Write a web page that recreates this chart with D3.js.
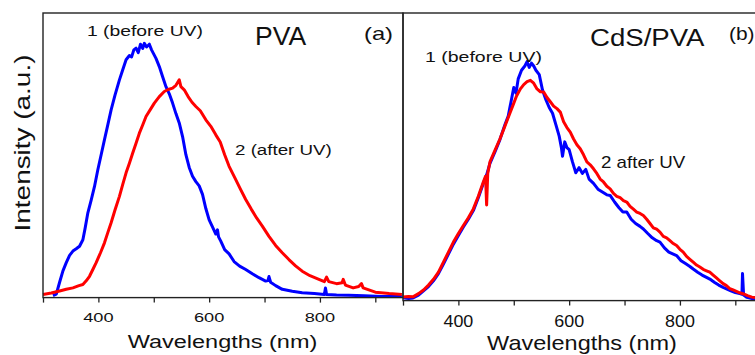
<!DOCTYPE html>
<html><head><meta charset="utf-8">
<script src="https://cdn.jsdelivr.net/npm/d3@7"></script>
<style>html,body{margin:0;padding:0;background:#fff;overflow:hidden}svg{display:block}text{font-family:"Liberation Sans",Arial,sans-serif;fill:#111}</style>
</head><body><svg id="c" width="755" height="355"></svg>
<script>
// ---- data (wavelength nm, intensity a.u.) ----
const xTicksMajor = [400, 600, 800];
const xTicksMinor = [300, 500, 700, 900];
const panelTitles = ["PVA", "CdS/PVA"];
const panelLetters = ["(a)", "(b)"];
const xLabel = "Wavelengths (nm)";
const yLabel = "Intensity (a.u.)";

const pvaBefore = [[318,0.3],[324,0.8],[330,5],[336,9],[342,11.9],[348,14.5],[354,16],[360,16.8],[366,17.7],[372,20],[376,24],[381,29.5],[387,34],[393,38.8],[399,44.7],[405,50],[411,55.3],[417,60.5],[423,65.8],[430,71],[438,76.4],[444,80],[450,83.5],[456,85],[460,84.5],[464,87],[468,87.6],[472,86],[476,89],[480,87.5],[483,89.3],[487,88],[492,89],[496,87],[500,85.5],[504,84],[510,81.1],[516,77.5],[522,74],[528,71.5],[534,68.2],[540,64.5],[546,61.2],[552,56.4],[558,50],[564,45.5],[570,42.4],[576,40.5],[582,39],[588,36],[594,31],[600,27],[606,24.5],[612,22],[615,23.5],[617,21],[621,19.5],[628,16.5],[636,15],[645,12.3],[655,10.7],[666,9.5],[678,8],[690,6.6],[702,5.4],[706,5.6],[708,7],[711,5],[720,3.8],[732,2.5],[750,1.8],[768,1.3],[790,1],[808,0.7],[810,3],[812,0.7],[830,0.5],[852,0.4],[880,0.2],[912,0],[948,0]];
const pvaAfter = [[300,0.7],[315,1.2],[330,1.9],[342,2.5],[354,3],[365,3.8],[372,4.2],[378,5.5],[384,7.1],[390,9.5],[396,11.9],[404,15.5],[411,18.9],[417,22.5],[423,26],[430,30.5],[438,35.3],[444,39.5],[450,43.6],[456,47],[462,50.6],[468,54],[474,57.6],[480,60.5],[486,63.5],[494,66],[501,68.2],[510,70.5],[519,72.3],[526,73],[534,73.5],[540,74.5],[546,76.4],[549,74],[555,72.9],[562,70.5],[569,68.5],[576,67],[584,65.5],[594,62.3],[603,60],[612,57],[620,54.5],[628,50],[636,45.9],[646,42],[656,38],[666,34.2],[676,30.8],[686,27.6],[696,24.8],[708,21.2],[720,18],[732,15.4],[744,13],[756,10.8],[768,8.9],[782,7.3],[796,6.2],[808,5.2],[812,6.8],[816,5.2],[830,4.5],[840,4.8],[842,6],[846,4],[860,3],[870,3.5],[875,4.5],[878,3],[900,1.5],[925,1],[948,0.7]];

const cdsBefore = [[300,0.6],[310,0.3],[318,0.5],[328,1.5],[337,3],[346,4.5],[355,6.5],[364,9],[373,12.3],[382,15.8],[391,19.3],[400,22.3],[409,25.3],[418,28],[427,31],[436,35.5],[445,40.5],[451,43.5],[457,47.5],[466,51.5],[475,55.8],[484,61],[490,64],[496,70],[500,74],[504,72],[508,77],[514,80],[520,81.5],[524,83],[528,81],[532,82.5],[536,81.5],[540,80],[546,78.5],[552,73],[558,69.7],[564,67],[570,65],[576,61],[582,57],[586,53],[588,50],[592,55],[596,53],[600,52.3],[606,48],[612,44.2],[618,46],[624,44],[630,45.4],[636,42],[644,40.5],[652,38.5],[660,37.5],[668,36.5],[674,36.3],[682,34],[690,32],[697,30.5],[704,30.5],[712,28],[720,26.5],[728,25.5],[734,24.6],[742,23],[750,21.5],[758,20.5],[764,20],[772,18],[780,16.5],[788,15.8],[794,15.3],[802,13.5],[810,12.5],[818,11.5],[824,10.6],[832,9.5],[840,8.5],[848,7.7],[854,7.1],[862,6],[870,5],[878,4.2],[885,3.6],[892,3],[900,2.4],[908,2],[912,1.8],[913,9],[915,1.5],[921,0.7],[930,0.3],[950,0.1]];
const cdsAfter = [[300,0.8],[310,1],[318,0.9],[328,2],[337,3.3],[346,5],[355,7],[364,9.5],[373,13],[382,16.5],[391,20],[400,23],[409,25.8],[418,28.5],[427,31.6],[436,36],[445,41],[449,43],[451,33],[453,44],[457,48],[466,52],[475,56],[484,60.5],[493,65],[499,68],[505,71],[512,73.5],[518,75],[524,76],[530,76.5],[536,75.5],[542,73.5],[548,72.5],[554,72.4],[560,70.5],[566,69],[572,67.5],[578,66.6],[584,65.4],[590,62],[596,60],[602,58.4],[608,56],[614,54],[620,52.6],[626,50.5],[632,48],[638,47],[644,45.6],[650,44],[656,42],[662,41],[668,39.5],[674,38.6],[680,37],[686,36],[692,35.5],[698,34.5],[704,34],[710,32.5],[716,31.5],[722,30.5],[728,30],[734,29.3],[740,28],[746,26.5],[752,25],[758,24.5],[764,23.5],[770,22],[776,21.5],[782,20.5],[788,19.5],[794,18.8],[800,17.5],[806,16.5],[812,15],[818,14],[824,13],[830,12],[836,11.3],[842,10.5],[848,10],[854,9.5],[860,8.5],[866,7.5],[872,6.5],[878,5.5],[884,4.8],[890,3.8],[896,3.3],[902,2.8],[908,2.3],[915,1.9],[922,1.3],[930,0.8],[940,0.5],[950,0.3]];

// ---- layout ----
const svg = d3.select("#c");
const panels = [
  {x0:43, x1:403, top:13, bottom:297.6, series:[pvaBefore,pvaAfter], tickSize:13.5, tickSx:1.35, tickY:322, labSize:18.5, labSx:1.27, labY:348, labX:222.5},
  {x0:403, x1:763, top:13, bottom:300.6, series:[cdsBefore,cdsAfter], tickSize:16, tickSx:1.12, tickY:326.5, labSize:21, labSx:1.12, labY:350, labX:582}
];
const colors = ["#0000ff", "#ff0000"];

function txt(x, y, s, size, sx, anchor, rot) {
  return svg.append("text").attr("font-size", size).attr("text-anchor", anchor || "start")
    .attr("transform", `translate(${x},${y})` + (rot ? ` rotate(${rot})` : "") + ` scale(${sx},1)`)
    .text(s);
}

panels.forEach((p, i) => {
  const x = d3.scaleLinear().domain([300, 950]).range([p.x0, p.x1]);
  const y = d3.scaleLinear().domain([0, 100]).range([p.bottom - 1.2, p.top]);
  const g = svg.append("g");
  const line = d3.line().x(d => x(d[0])).y(d => y(d[1]));
  p.series.forEach((s, k) => {
    g.append("path").datum(s).attr("d", line).attr("fill", "none")
      .attr("stroke", colors[k]).attr("stroke-width", 3).attr("stroke-linejoin", "round");
  });
  g.append("rect").attr("x", p.x0).attr("y", p.top).attr("width", p.x1 - p.x0).attr("height", p.bottom - p.top)
    .attr("fill", "none").attr("stroke", "#222").attr("stroke-width", 1.4);
  const ax = d3.axisBottom(x).tickValues(xTicksMajor.concat(xTicksMinor)).tickSize(5).tickFormat("");
  const ag = g.append("g").attr("transform", `translate(0,${p.bottom})`).call(ax);
  ag.select(".domain").remove();
  ag.selectAll("line").attr("stroke", "#222").attr("stroke-width", 1.3);
  xTicksMajor.forEach(v => txt(x(v), p.tickY, String(v), p.tickSize, p.tickSx, "middle"));
  txt(p.labX, p.labY, xLabel, p.labSize, p.labSx, "middle");
});

// annotations
txt(30, 143, yLabel, 22, 1.27, "middle", -90);
txt(87, 36, "1 (before UV)", 14, 1.38);
txt(255, 45, panelTitles[0], 25.5, 1.04);
txt(364, 40, panelLetters[0], 19, 1.25);
txt(235, 155, "2 (after UV)", 15, 1.25);
txt(425, 62, "1 (before UV)", 15, 1.3);
txt(590, 45.5, panelTitles[1], 24, 1.15);
txt(729, 40, panelLetters[1], 19, 1.1);
txt(601, 168, "2 after UV", 16, 1.17);
</script></body></html>
